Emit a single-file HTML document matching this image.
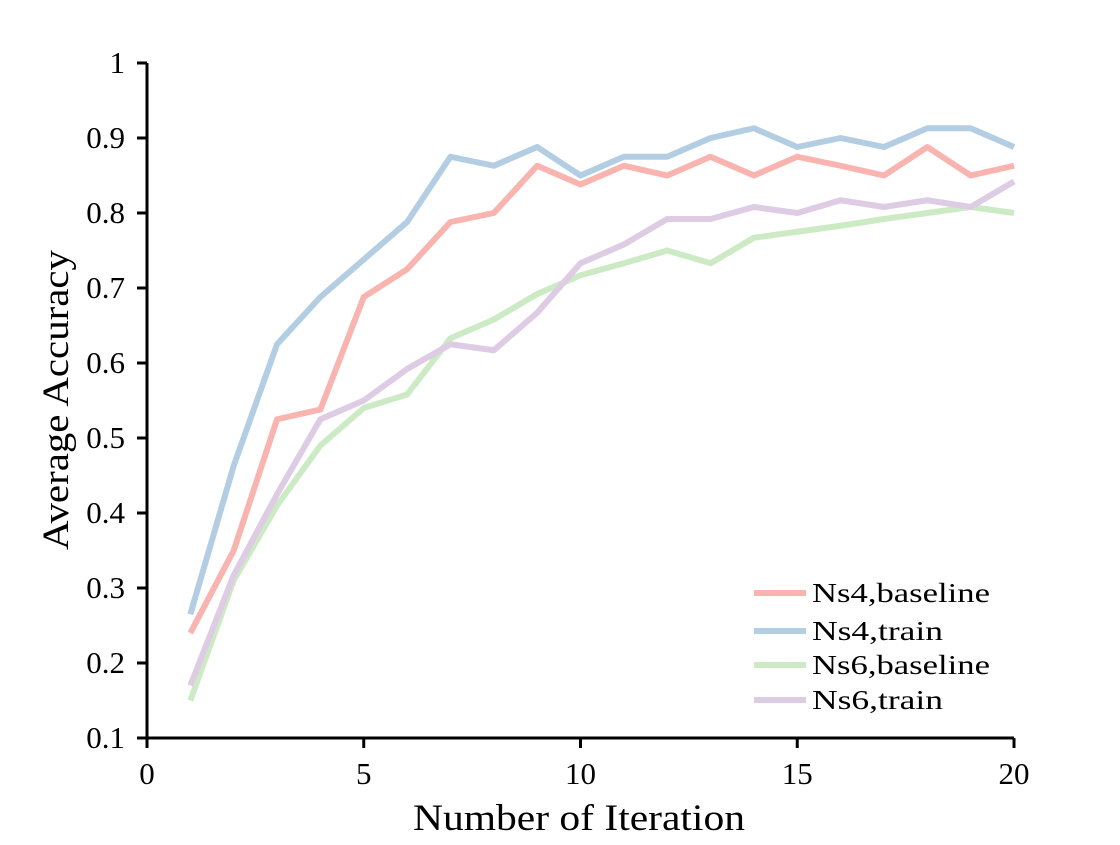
<!DOCTYPE html>
<html><head><meta charset="utf-8"><style>
body{margin:0;background:#fff;}
text{font-family:"Liberation Serif",serif;fill:#000;}
</style></head><body>
<svg id="chart" width="1120" height="840" xmlns="http://www.w3.org/2000/svg"></svg>
<script>
const iterations=[1,2,3,4,5,6,7,8,9,10,11,12,13,14,15,16,17,18,19,20];
const ns4Baseline=[0.24,0.35,0.525,0.538,0.688,0.725,0.788,0.80,0.863,0.838,0.863,0.85,0.875,0.85,0.875,0.863,0.85,0.888,0.85,0.863];
const ns4Train=[0.265,0.463,0.625,0.688,0.738,0.788,0.875,0.863,0.888,0.85,0.875,0.875,0.9,0.913,0.888,0.9,0.888,0.913,0.913,0.888];
const ns6Baseline=[0.15,0.31,0.41,0.49,0.54,0.558,0.633,0.658,0.692,0.717,0.733,0.75,0.733,0.767,0.775,0.783,0.792,0.80,0.808,0.80];
const ns6Train=[0.17,0.317,0.425,0.525,0.55,0.592,0.625,0.617,0.667,0.733,0.758,0.792,0.792,0.808,0.80,0.817,0.808,0.817,0.808,0.842];
const xTicks=[0,5,10,15,20];
const yTicks=[0.1,0.2,0.3,0.4,0.5,0.6,0.7,0.8,0.9,1];
const yTickLabels=["0.1","0.2","0.3","0.4","0.5","0.6","0.7","0.8","0.9","1"];
const seriesNames=["Ns4,baseline","Ns4,train","Ns6,baseline","Ns6,train"];
const seriesData=[ns4Baseline,ns4Train,ns6Baseline,ns6Train];
const colors=["#f9b4b0","#b3cde3","#ccebc5","#decbe4"];
const legendWidths=[178,131,178,131];

const svg=document.getElementById('chart');
const NS='http://www.w3.org/2000/svg';
const X0=147,X1=1014,Y0=738,Y1=63;
const xs=v=>X0+(v-0)/(20-0)*(X1-X0);
const ys=v=>Y0-(v-0.1)/(1-0.1)*(Y0-Y1);
function mk(tag,attrs){const e=document.createElementNS(NS,tag);for(const k in attrs)e.setAttribute(k,attrs[k]);svg.appendChild(e);return e;}

seriesData.forEach((d,i)=>{
  const p=mk('polyline',{points:d.map((v,j)=>xs(iterations[j])+','+ys(v)).join(' '),fill:'none',stroke:colors[i],'stroke-width':6,'stroke-linejoin':'round'});
  
  
});

const xa=mk('line',{x1:X0-1.5,y1:Y0,x2:X1,y2:Y0,stroke:'#000','stroke-width':3});


const ya=mk('line',{x1:X0,y1:Y0+1.5,x2:X0,y2:Y1,stroke:'#000','stroke-width':3});



xTicks.forEach(t=>{
  const l=mk('line',{x1:xs(t),y1:Y0,x2:xs(t),y2:Y0+10,stroke:'#000','stroke-width':3});
  
  
  const tx=mk('text',{x:xs(t),y:Y0+46,'text-anchor':'middle','font-size':31});
  tx.textContent=t;
  
  
});
yTicks.forEach((t,i)=>{
  const l=mk('line',{x1:X0-10,y1:ys(t),x2:X0,y2:ys(t),stroke:'#000','stroke-width':3});
  
  
  const tx=mk('text',{x:X0-22,y:ys(t)+10,'text-anchor':'end','font-size':31});
  tx.textContent=yTickLabels[i];
  
  
});

const xt=mk('text',{x:579,y:830,'text-anchor':'middle','font-size':37,textLength:332,lengthAdjust:'spacingAndGlyphs'});
xt.textContent='Number of Iteration';


const yt=mk('text',{x:0,y:0,'text-anchor':'middle','font-size':37,textLength:300,lengthAdjust:'spacingAndGlyphs',transform:'translate(68,400) rotate(-90)'});
yt.textContent='Average Accuracy';



const ly=[593,631,665,700];
seriesNames.forEach((n,i)=>{
  const l=mk('line',{x1:754,y1:ly[i],x2:806,y2:ly[i],stroke:colors[i],'stroke-width':6});
  
  
  const t=mk('text',{x:812,y:ly[i]+9,'font-size':27,textLength:legendWidths[i],lengthAdjust:'spacingAndGlyphs'});
  t.textContent=n;
  
  
});
</script>
</body></html>
